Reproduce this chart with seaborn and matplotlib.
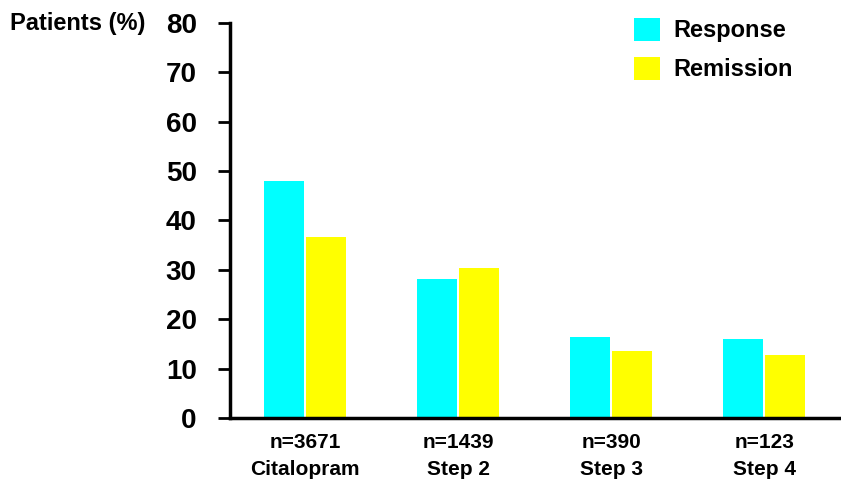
import pandas as pd
import seaborn as sns
import matplotlib.pyplot as plt

# Values
groups = ['n=3671\nCitalopram', 'n=1439\nStep 2', 'n=390\nStep 3', 'n=123\nStep 4']
response = [48.0, 28.2, 16.4, 16.0]
remission = [36.6, 30.3, 13.6, 12.8]
measures = ['Response', 'Remission']

df = pd.DataFrame({
    'group': groups * 2,
    'value': response + remission,
    'measure': [measures[0]] * len(groups) + [measures[1]] * len(groups),
})

sns.set_style('white')
plt.rcParams['font.family'] = ['Liberation Sans', 'DejaVu Sans']
plt.rcParams['font.weight'] = 'bold'
plt.rcParams['text.color'] = 'black'
plt.rcParams['xtick.color'] = 'black'
plt.rcParams['ytick.color'] = 'black'

fig = plt.figure(figsize=(8.41, 4.88), dpi=100)
ax = fig.add_axes([0.2735, 0.1434, 0.7265, 0.8096])

sns.barplot(data=df, x='group', y='value', hue='measure', order=groups,
            hue_order=measures, palette=['#00FFFF', '#FFFF00'],
            width=0.55, gap=0.05, saturation=1, linewidth=0, ax=ax)

ax.set_ylim(0, 80)
ax.set_xlim(-0.49, 3.5)
ax.set_yticks(range(0, 81, 10))
ax.set_xlabel('')
ax.set_ylabel('')

for side in ['top', 'right']:
    ax.spines[side].set_visible(False)
for side in ['left', 'bottom']:
    ax.spines[side].set_linewidth(2.5)
    ax.spines[side].set_color('black')

ax.tick_params(axis='y', direction='out', length=9, width=2, color='black',
               labelsize=20, pad=15, left=True)
ax.tick_params(axis='x', length=0, labelsize=15, pad=11)
for lab in ax.get_xticklabels():
    lab.set_linespacing(1.5)
    lab.set_fontweight('bold')
for lab in ax.get_yticklabels():
    lab.set_fontweight('bold')

fig.text(0.012, 0.952, 'Patients (%)', fontsize=17, fontweight='bold',
         va='center', ha='left')

ax.legend(loc='upper left', bbox_to_anchor=(634 / 841, 1 - 18 / 488),
          bbox_transform=fig.transFigure, frameon=False,
          handlelength=1.1, handleheight=1.1, labelspacing=0.62,
          handletextpad=0.55, borderpad=0, borderaxespad=0,
          prop={'weight': 'bold', 'size': 17})

fig.savefig('out.png', dpi=100)
